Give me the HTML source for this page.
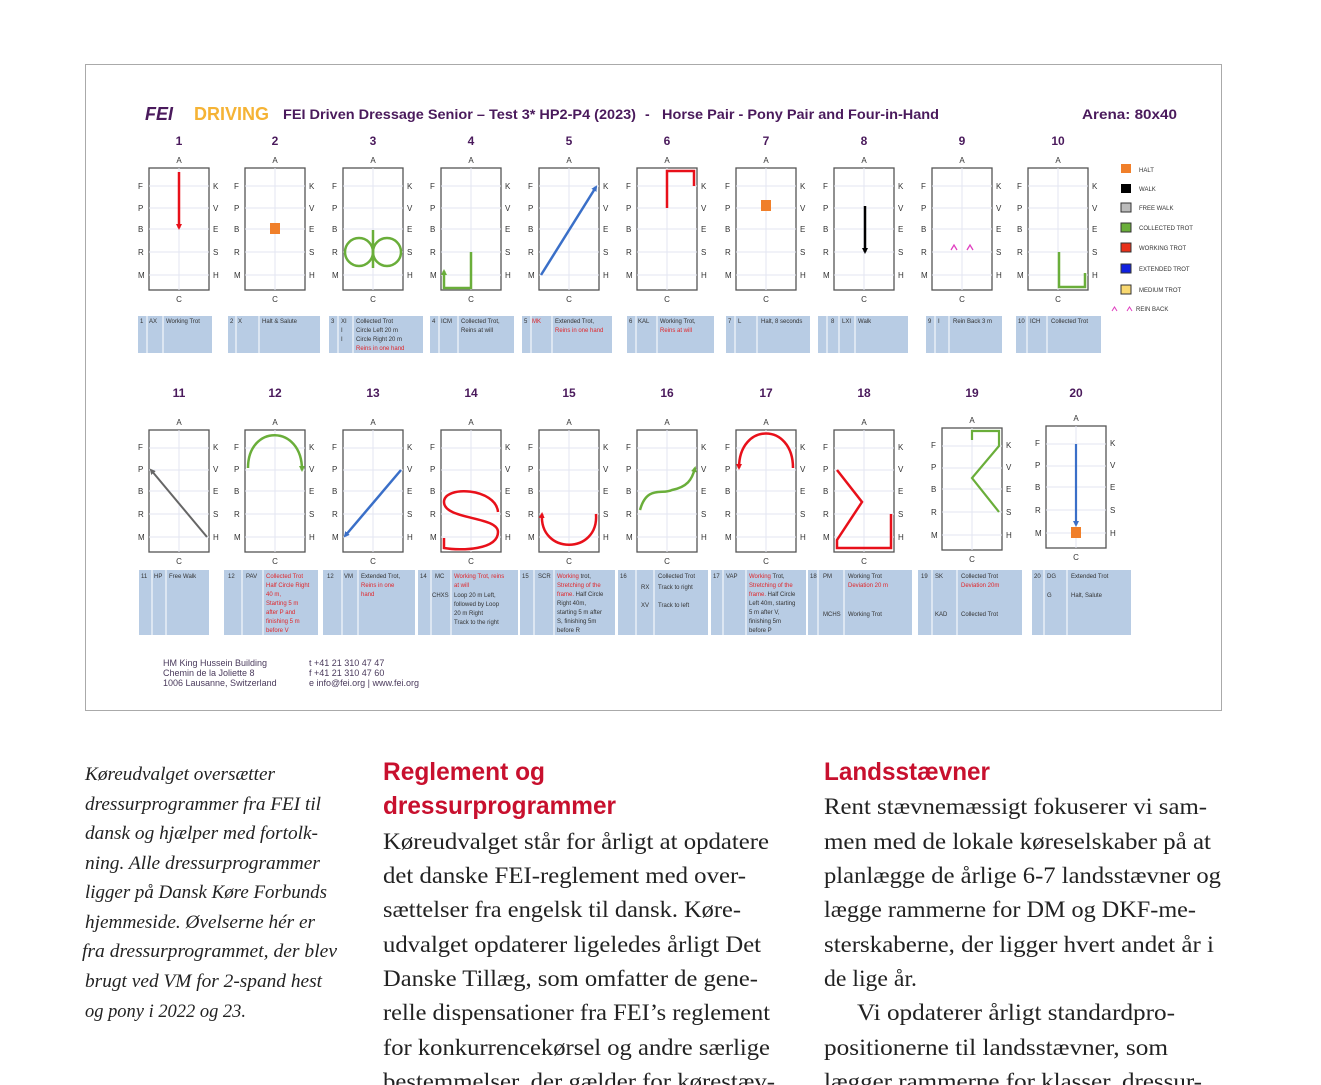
<!DOCTYPE html>
<html><head><meta charset="utf-8"><style>
html,body{margin:0;padding:0;background:#fff;width:1321px;height:1085px;overflow:hidden}
svg{display:block}
.l{font:8px "Liberation Sans",sans-serif;fill:#333}
.n{font:bold 12px "Liberation Sans",sans-serif;fill:#4a1a5c}
.b{font:6px "Liberation Sans",sans-serif;fill:#333}
.r{fill:#e0262a}
.it{font:italic 19px "Liberation Serif",serif;fill:#222}
.bd{font:23px "Liberation Serif",serif;fill:#222}
.hd{font:bold 25px "Liberation Sans",sans-serif;fill:#c8102e}
</style></head><body>
<svg width="1321" height="1085" viewBox="0 0 1321 1085" xmlns="http://www.w3.org/2000/svg">
<defs>
<g id="ar">
<rect x="0" y="0" width="60" height="122" fill="#fff" stroke="#555" stroke-width="1.3"/>
<g stroke="#e3e6f2" stroke-width="1"><line x1="0" y1="18" x2="60" y2="18"/><line x1="0" y1="40" x2="60" y2="40"/><line x1="0" y1="61" x2="60" y2="61"/><line x1="0" y1="84" x2="60" y2="84"/><line x1="0" y1="107" x2="60" y2="107"/><line x1="30" y1="0" x2="30" y2="122"/></g>
</g>
<marker id="ah" markerUnits="userSpaceOnUse" markerWidth="6" markerHeight="6" refX="4" refY="3" orient="auto"><path d="M0,0 L6,3 L0,6z" fill="context-stroke"/></marker>
</defs>
<rect x="85.5" y="64.5" width="1136" height="646" fill="#fff" stroke="#aaa"/>
<text x="145" y="120" style="font:bold italic 18px 'Liberation Sans',sans-serif;fill:#4a1a5c">FEI</text>
<text x="194" y="120" style="font:bold 18px 'Liberation Sans',sans-serif;fill:#f5b335">DRIVING</text>
<text x="283" y="119" style="font:bold 14px 'Liberation Sans',sans-serif;fill:#4a1a5c" textLength="353" lengthAdjust="spacingAndGlyphs">FEI Driven Dressage Senior – Test 3* HP2-P4 (2023)</text>
<text x="645" y="119" style="font:bold 14px 'Liberation Sans',sans-serif;fill:#4a1a5c">-</text>
<text x="662" y="119" style="font:bold 14px 'Liberation Sans',sans-serif;fill:#4a1a5c" textLength="277" lengthAdjust="spacingAndGlyphs">Horse Pair - Pony Pair and Four-in-Hand</text>
<text x="1082" y="119" style="font:bold 14px 'Liberation Sans',sans-serif;fill:#4a1a5c" textLength="95" lengthAdjust="spacingAndGlyphs">Arena: 80x40</text>

<!-- Row 1 -->
<g transform="translate(149,168)"><text class="n" x="30" y="-23" text-anchor="middle">1</text><use href="#ar"/><text class="l" x="30" y="-5" text-anchor="middle">A</text><text class="l" x="30" y="134" text-anchor="middle">C</text><g class="l"><text x="-11" y="21">F</text><text x="-11" y="43">P</text><text x="-11" y="64">B</text><text x="-11" y="87">R</text><text x="-11" y="110">M</text><text x="64" y="21">K</text><text x="64" y="43">V</text><text x="64" y="64">E</text><text x="64" y="87">S</text><text x="64" y="110">H</text></g>
<path d="M30,4 L30,60" stroke="#e8101a" stroke-width="2.5" marker-end="url(#ah)"/></g>
<g transform="translate(245,168)"><text class="n" x="30" y="-23" text-anchor="middle">2</text><use href="#ar"/><text class="l" x="30" y="-5" text-anchor="middle">A</text><text class="l" x="30" y="134" text-anchor="middle">C</text><g class="l"><text x="-11" y="21">F</text><text x="-11" y="43">P</text><text x="-11" y="64">B</text><text x="-11" y="87">R</text><text x="-11" y="110">M</text><text x="64" y="21">K</text><text x="64" y="43">V</text><text x="64" y="64">E</text><text x="64" y="87">S</text><text x="64" y="110">H</text></g>
<rect x="25" y="55" width="10" height="11" fill="#f07f2a"/></g>
<g transform="translate(343,168)"><text class="n" x="30" y="-23" text-anchor="middle">3</text><use href="#ar"/><text class="l" x="30" y="-5" text-anchor="middle">A</text><text class="l" x="30" y="134" text-anchor="middle">C</text><g class="l"><text x="-11" y="21">F</text><text x="-11" y="43">P</text><text x="-11" y="64">B</text><text x="-11" y="87">R</text><text x="-11" y="110">M</text><text x="64" y="21">K</text><text x="64" y="43">V</text><text x="64" y="64">E</text><text x="64" y="87">S</text><text x="64" y="110">H</text></g>
<g stroke="#6aae3a" stroke-width="2.5" fill="none"><line x1="30" y1="62" x2="30" y2="100"/><circle cx="16" cy="84" r="14"/><circle cx="44" cy="84" r="14"/></g></g>
<g transform="translate(441,168)"><text class="n" x="30" y="-23" text-anchor="middle">4</text><use href="#ar"/><text class="l" x="30" y="-5" text-anchor="middle">A</text><text class="l" x="30" y="134" text-anchor="middle">C</text><g class="l"><text x="-11" y="21">F</text><text x="-11" y="43">P</text><text x="-11" y="64">B</text><text x="-11" y="87">R</text><text x="-11" y="110">M</text><text x="64" y="21">K</text><text x="64" y="43">V</text><text x="64" y="64">E</text><text x="64" y="87">S</text><text x="64" y="110">H</text></g>
<path d="M30,84 L30,120 L3,120 L3,103" stroke="#6aae3a" stroke-width="2.5" fill="none" marker-end="url(#ah)"/></g>
<g transform="translate(539,168)"><text class="n" x="30" y="-23" text-anchor="middle">5</text><use href="#ar"/><text class="l" x="30" y="-5" text-anchor="middle">A</text><text class="l" x="30" y="134" text-anchor="middle">C</text><g class="l"><text x="-11" y="21">F</text><text x="-11" y="43">P</text><text x="-11" y="64">B</text><text x="-11" y="87">R</text><text x="-11" y="110">M</text><text x="64" y="21">K</text><text x="64" y="43">V</text><text x="64" y="64">E</text><text x="64" y="87">S</text><text x="64" y="110">H</text></g>
<path d="M2,107 L57,19" stroke="#3a6fc8" stroke-width="2.5" marker-end="url(#ah)"/></g>
<g transform="translate(637,168)"><text class="n" x="30" y="-23" text-anchor="middle">6</text><use href="#ar"/><text class="l" x="30" y="-5" text-anchor="middle">A</text><text class="l" x="30" y="134" text-anchor="middle">C</text><g class="l"><text x="-11" y="21">F</text><text x="-11" y="43">P</text><text x="-11" y="64">B</text><text x="-11" y="87">R</text><text x="-11" y="110">M</text><text x="64" y="21">K</text><text x="64" y="43">V</text><text x="64" y="64">E</text><text x="64" y="87">S</text><text x="64" y="110">H</text></g>
<path d="M30,40 L30,3 L57,3 L57,18" stroke="#e8101a" stroke-width="2.5" fill="none"/></g>
<g transform="translate(736,168)"><text class="n" x="30" y="-23" text-anchor="middle">7</text><use href="#ar"/><text class="l" x="30" y="-5" text-anchor="middle">A</text><text class="l" x="30" y="134" text-anchor="middle">C</text><g class="l"><text x="-11" y="21">F</text><text x="-11" y="43">P</text><text x="-11" y="64">B</text><text x="-11" y="87">R</text><text x="-11" y="110">M</text><text x="64" y="21">K</text><text x="64" y="43">V</text><text x="64" y="64">E</text><text x="64" y="87">S</text><text x="64" y="110">H</text></g>
<rect x="25" y="32" width="10" height="11" fill="#f07f2a"/></g>
<g transform="translate(834,168)"><text class="n" x="30" y="-23" text-anchor="middle">8</text><use href="#ar"/><text class="l" x="30" y="-5" text-anchor="middle">A</text><text class="l" x="30" y="134" text-anchor="middle">C</text><g class="l"><text x="-11" y="21">F</text><text x="-11" y="43">P</text><text x="-11" y="64">B</text><text x="-11" y="87">R</text><text x="-11" y="110">M</text><text x="64" y="21">K</text><text x="64" y="43">V</text><text x="64" y="64">E</text><text x="64" y="87">S</text><text x="64" y="110">H</text></g>
<path d="M31,38 L31,84" stroke="#000" stroke-width="2.5" marker-end="url(#ah)"/></g>
<g transform="translate(932,168)"><text class="n" x="30" y="-23" text-anchor="middle">9</text><use href="#ar"/><text class="l" x="30" y="-5" text-anchor="middle">A</text><text class="l" x="30" y="134" text-anchor="middle">C</text><g class="l"><text x="-11" y="21">F</text><text x="-11" y="43">P</text><text x="-11" y="64">B</text><text x="-11" y="87">R</text><text x="-11" y="110">M</text><text x="64" y="21">K</text><text x="64" y="43">V</text><text x="64" y="64">E</text><text x="64" y="87">S</text><text x="64" y="110">H</text></g>
<path d="M19,82 L22,77 L25,82 M35,82 L38,77 L41,82" stroke="#e040c0" stroke-width="1.3" fill="none"/></g>
<g transform="translate(1028,168)"><text class="n" x="30" y="-23" text-anchor="middle">10</text><use href="#ar"/><text class="l" x="30" y="-5" text-anchor="middle">A</text><text class="l" x="30" y="134" text-anchor="middle">C</text><g class="l"><text x="-11" y="21">F</text><text x="-11" y="43">P</text><text x="-11" y="64">B</text><text x="-11" y="87">R</text><text x="-11" y="110">M</text><text x="64" y="21">K</text><text x="64" y="43">V</text><text x="64" y="64">E</text><text x="64" y="87">S</text><text x="64" y="110">H</text></g>
<path d="M31,84 L31,119 L57,119 L57,105" stroke="#6aae3a" stroke-width="2.5" fill="none"/></g>

<!-- Legend -->
<g style="font:6px 'Liberation Sans',sans-serif;fill:#333">
<rect x="1121" y="164" width="10" height="9" fill="#f07f2a"/><text x="1139" y="172">HALT</text>
<rect x="1121" y="184" width="10" height="9" fill="#000"/><text x="1139" y="191">WALK</text>
<rect x="1121" y="203" width="10" height="9" fill="#bbb" stroke="#333"/><text x="1139" y="210">FREE WALK</text>
<rect x="1121" y="223" width="10" height="9" fill="#6aae3a" stroke="#333"/><text x="1139" y="230">COLLECTED TROT</text>
<rect x="1121" y="243" width="10" height="9" fill="#e8301a" stroke="#333"/><text x="1139" y="250">WORKING TROT</text>
<rect x="1121" y="264" width="10" height="9" fill="#1020e0" stroke="#333"/><text x="1139" y="271">EXTENDED TROT</text>
<rect x="1121" y="285" width="10" height="9" fill="#f8d870" stroke="#333"/><text x="1139" y="292">MEDIUM TROT</text>
<path d="M1112,311 L1114.5,307 L1117,311 M1127,311 L1129.5,307 L1132,311" stroke="#e040c0" stroke-width="1" fill="none"/><text x="1136" y="311">REIN BACK</text>
</g>

<!-- Row 1 boxes -->
<g fill="#b8cce4">
<rect x="138" y="316" width="74" height="37"/><rect x="228" y="316" width="92" height="37"/><rect x="329" y="316" width="94" height="37"/><rect x="430" y="316" width="84" height="37"/><rect x="522" y="316" width="90" height="37"/><rect x="627" y="316" width="87" height="37"/><rect x="726" y="316" width="84" height="37"/><rect x="818" y="316" width="90" height="37"/><rect x="926" y="316" width="76" height="37"/><rect x="1016" y="316" width="85" height="37"/>
</g>
<g stroke="#fff" stroke-width="1">
<path d="M147,316v37M163,316v37M236,316v37M259,316v37M338,316v37M353,316v37M439,316v37M458,316v37M531,316v37M552,316v37M636,316v37M657,316v37M735,316v37M757,316v37M827,316v37M839,316v37M855,316v37M935,316v37M949,316v37M1027,316v37M1047,316v37"/>
</g>
<g class="b">
<text x="140" y="323">1</text><text x="149" y="323">AX</text><text x="166" y="323">Working Trot</text>
<text x="230" y="323">2</text><text x="238" y="323">X</text><text x="262" y="323">Halt &amp; Salute</text>
<text x="331" y="323">3</text><text x="341" y="323">XI</text><text x="341" y="332">I</text><text x="341" y="341">I</text><text x="356" y="323">Collected Trot</text><text x="356" y="332">Circle Left  20 m</text><text x="356" y="341">Circle Right 20 m</text><text x="356" y="350" class="r">Reins in one hand</text>
<text x="432" y="323">4</text><text x="441" y="323">ICM</text><text x="461" y="323">Collected Trot,</text><text x="461" y="332">Reins at will</text>
<text x="524" y="323">5</text><text x="532" y="323" class="r">MK</text><text x="555" y="323">Extended Trot,</text><text x="555" y="332" class="r">Reins in one hand</text>
<text x="629" y="323">6</text><text x="638" y="323">KAL</text><text x="660" y="323">Working Trot,</text><text x="660" y="332" class="r">Reins at will</text>
<text x="728" y="323">7</text><text x="738" y="323">L</text><text x="761" y="323">Halt, 8 seconds</text>
<text x="831" y="323">8</text><text x="842" y="323">LXI</text><text x="858" y="323">Walk</text>
<text x="928" y="323">9</text><text x="938" y="323">I</text><text x="953" y="323">Rein Back 3 m</text>
<text x="1018" y="323">10</text><text x="1030" y="323">ICH</text><text x="1051" y="323">Collected Trot</text>
</g>

<!-- Row 2 -->
<g transform="translate(149,430)"><text class="n" x="30" y="-33" text-anchor="middle">11</text><use href="#ar"/><text class="l" x="30" y="-5" text-anchor="middle">A</text><text class="l" x="30" y="134" text-anchor="middle">C</text><g class="l"><text x="-11" y="20">F</text><text x="-11" y="42">P</text><text x="-11" y="64">B</text><text x="-11" y="87">R</text><text x="-11" y="110">M</text><text x="64" y="20">K</text><text x="64" y="42">V</text><text x="64" y="64">E</text><text x="64" y="87">S</text><text x="64" y="110">H</text></g>
<path d="M58,107 L2,40" stroke="#666" stroke-width="2" marker-end="url(#ah)"/></g>
<g transform="translate(245,430)"><text class="n" x="30" y="-33" text-anchor="middle">12</text><use href="#ar"/><text class="l" x="30" y="-5" text-anchor="middle">A</text><text class="l" x="30" y="134" text-anchor="middle">C</text><g class="l"><text x="-11" y="20">F</text><text x="-11" y="42">P</text><text x="-11" y="64">B</text><text x="-11" y="87">R</text><text x="-11" y="110">M</text><text x="64" y="20">K</text><text x="64" y="42">V</text><text x="64" y="64">E</text><text x="64" y="87">S</text><text x="64" y="110">H</text></g>
<path d="M3,38 C3,-6 57,-6 57,40" stroke="#6aae3a" stroke-width="2.5" fill="none" marker-end="url(#ah)"/></g>
<g transform="translate(343,430)"><text class="n" x="30" y="-33" text-anchor="middle">13</text><use href="#ar"/><text class="l" x="30" y="-5" text-anchor="middle">A</text><text class="l" x="30" y="134" text-anchor="middle">C</text><g class="l"><text x="-11" y="20">F</text><text x="-11" y="42">P</text><text x="-11" y="64">B</text><text x="-11" y="87">R</text><text x="-11" y="110">M</text><text x="64" y="20">K</text><text x="64" y="42">V</text><text x="64" y="64">E</text><text x="64" y="87">S</text><text x="64" y="110">H</text></g>
<path d="M58,40 L2,106" stroke="#3a6fc8" stroke-width="2.5" marker-end="url(#ah)"/></g>
<g transform="translate(441,430)"><text class="n" x="30" y="-33" text-anchor="middle">14</text><use href="#ar"/><text class="l" x="30" y="-5" text-anchor="middle">A</text><text class="l" x="30" y="134" text-anchor="middle">C</text><g class="l"><text x="-11" y="20">F</text><text x="-11" y="42">P</text><text x="-11" y="64">B</text><text x="-11" y="87">R</text><text x="-11" y="110">M</text><text x="64" y="20">K</text><text x="64" y="42">V</text><text x="64" y="64">E</text><text x="64" y="87">S</text><text x="64" y="110">H</text></g>
<path d="M57,82 C55,58 3,55 3,72 C3,90 57,86 57,102 C57,120 20,121 3,118 L3,108" stroke="#e8101a" stroke-width="2.5" fill="none"/></g>
<g transform="translate(539,430)"><text class="n" x="30" y="-33" text-anchor="middle">15</text><use href="#ar"/><text class="l" x="30" y="-5" text-anchor="middle">A</text><text class="l" x="30" y="134" text-anchor="middle">C</text><g class="l"><text x="-11" y="20">F</text><text x="-11" y="42">P</text><text x="-11" y="64">B</text><text x="-11" y="87">R</text><text x="-11" y="110">M</text><text x="64" y="20">K</text><text x="64" y="42">V</text><text x="64" y="64">E</text><text x="64" y="87">S</text><text x="64" y="110">H</text></g>
<path d="M57,84 C60,125 0,125 3,84" stroke="#e8101a" stroke-width="2.5" fill="none" marker-end="url(#ah)"/></g>
<g transform="translate(637,430)"><text class="n" x="30" y="-33" text-anchor="middle">16</text><use href="#ar"/><text class="l" x="30" y="-5" text-anchor="middle">A</text><text class="l" x="30" y="134" text-anchor="middle">C</text><g class="l"><text x="-11" y="20">F</text><text x="-11" y="42">P</text><text x="-11" y="64">B</text><text x="-11" y="87">R</text><text x="-11" y="110">M</text><text x="64" y="20">K</text><text x="64" y="42">V</text><text x="64" y="64">E</text><text x="64" y="87">S</text><text x="64" y="110">H</text></g>
<path d="M3,80 C10,55 25,65 35,60 C50,57 55,50 58,38" stroke="#6aae3a" stroke-width="2.5" fill="none" marker-end="url(#ah)"/></g>
<g transform="translate(736,430)"><text class="n" x="30" y="-33" text-anchor="middle">17</text><use href="#ar"/><text class="l" x="30" y="-5" text-anchor="middle">A</text><text class="l" x="30" y="134" text-anchor="middle">C</text><g class="l"><text x="-11" y="20">F</text><text x="-11" y="42">P</text><text x="-11" y="64">B</text><text x="-11" y="87">R</text><text x="-11" y="110">M</text><text x="64" y="20">K</text><text x="64" y="42">V</text><text x="64" y="64">E</text><text x="64" y="87">S</text><text x="64" y="110">H</text></g>
<path d="M57,38 C57,-8 3,-8 3,38" stroke="#e8101a" stroke-width="2.5" fill="none" marker-end="url(#ah)"/></g>
<g transform="translate(834,430)"><text class="n" x="30" y="-33" text-anchor="middle">18</text><use href="#ar"/><text class="l" x="30" y="-5" text-anchor="middle">A</text><text class="l" x="30" y="134" text-anchor="middle">C</text><g class="l"><text x="-11" y="20">F</text><text x="-11" y="42">P</text><text x="-11" y="64">B</text><text x="-11" y="87">R</text><text x="-11" y="110">M</text><text x="64" y="20">K</text><text x="64" y="42">V</text><text x="64" y="64">E</text><text x="64" y="87">S</text><text x="64" y="110">H</text></g>
<path d="M3,40 L28,72 L3,110 L3,118 L57,118 L57,84" stroke="#e8101a" stroke-width="2.5" fill="none"/></g>
<g transform="translate(942,428)"><text class="n" x="30" y="-31" text-anchor="middle">19</text><use href="#ar"/><text class="l" x="30" y="-5" text-anchor="middle">A</text><text class="l" x="30" y="134" text-anchor="middle">C</text><g class="l"><text x="-11" y="20">F</text><text x="-11" y="42">P</text><text x="-11" y="64">B</text><text x="-11" y="87">R</text><text x="-11" y="110">M</text><text x="64" y="20">K</text><text x="64" y="42">V</text><text x="64" y="64">E</text><text x="64" y="87">S</text><text x="64" y="110">H</text></g>
<path d="M30,12 L30,3 L57,3 L57,18 L30,50 L57,84" stroke="#6aae3a" stroke-width="2.2" fill="none"/></g>
<g transform="translate(1046,426)"><text class="n" x="30" y="-29" text-anchor="middle">20</text><use href="#ar"/><text class="l" x="30" y="-5" text-anchor="middle">A</text><text class="l" x="30" y="134" text-anchor="middle">C</text><g class="l"><text x="-11" y="20">F</text><text x="-11" y="42">P</text><text x="-11" y="64">B</text><text x="-11" y="87">R</text><text x="-11" y="110">M</text><text x="64" y="20">K</text><text x="64" y="42">V</text><text x="64" y="64">E</text><text x="64" y="87">S</text><text x="64" y="110">H</text></g>
<path d="M30,18 L30,99" stroke="#3a6fc8" stroke-width="2.2" marker-end="url(#ah)"/><rect x="25" y="101" width="10" height="11" fill="#f07f2a"/></g>

<!-- Row 2 boxes -->
<g fill="#b8cce4">
<rect x="139" y="570" width="70" height="65"/><rect x="224" y="570" width="94" height="65"/><rect x="323" y="570" width="92" height="65"/><rect x="418" y="570" width="100" height="65"/><rect x="520" y="570" width="95" height="65"/><rect x="618" y="570" width="90" height="65"/><rect x="711" y="570" width="95" height="65"/><rect x="808" y="570" width="104" height="65"/><rect x="918" y="570" width="104" height="65"/><rect x="1032" y="570" width="99" height="65"/>
</g>
<g stroke="#fff" stroke-width="1">
<path d="M152,570v65M166,570v65M242,570v65M263,570v65M342,570v65M358,570v65M431,570v65M451,570v65M534,570v65M554,570v65M636,570v65M654,570v65M723,570v65M746,570v65M818,570v65M844,570v65M932,570v65M957,570v65M1044,570v65M1067,570v65"/>
</g>
<g class="b">
<text x="141" y="578">11</text><text x="154" y="578">HP</text><text x="169" y="578">Free Walk</text>
<text x="228" y="578">12</text><text x="246" y="578">PAV</text><g class="r"><text x="266" y="578">Collected Trot</text><text x="266" y="587">Half Circle Right</text><text x="266" y="596">40 m,</text><text x="266" y="605">Starting 5 m</text><text x="266" y="614">after P and</text><text x="266" y="623">finishing 5 m</text><text x="266" y="632">before V</text></g>
<text x="327" y="578">12</text><text x="344" y="578">VM</text><text x="361" y="578">Extended Trot,</text><text x="361" y="587" class="r">Reins in one</text><text x="361" y="596" class="r">hand</text>
<text x="420" y="578">14</text><text x="435" y="578">MC</text><text x="432" y="597">CHXS</text><text x="454" y="578" class="r">Working Trot, reins</text><text x="454" y="587" class="r">at will</text><text x="454" y="597">Loop 20 m Left,</text><text x="454" y="606">followed by Loop</text><text x="454" y="615">20 m Right</text><text x="454" y="624">Track to the right</text>
<text x="522" y="578">15</text><text x="538" y="578">SCR</text><text x="557" y="578" class="r">Working <tspan fill="#333">trot,</tspan></text><text x="557" y="587" class="r">Stretching of the</text><text x="557" y="596"><tspan class="r">frame.</tspan> Half Circle</text><text x="557" y="605">Right 40m,</text><text x="557" y="614">starting 5 m after</text><text x="557" y="623">S, finishing 5m</text><text x="557" y="632">before R</text>
<text x="620" y="578">16</text><text x="641" y="589">RX</text><text x="641" y="607">XV</text><text x="658" y="578">Collected Trot</text><text x="658" y="589">Track to right</text><text x="658" y="607">Track to left</text>
<text x="713" y="578">17</text><text x="726" y="578">VAP</text><g><text x="749" y="578" class="r">Working <tspan fill="#333">Trot,</tspan></text><text x="749" y="587" class="r">Stretching of the</text><text x="749" y="596"><tspan class="r">frame.</tspan> Half Circle</text><text x="749" y="605">Left 40m, starting</text><text x="749" y="614">5 m after V,</text><text x="749" y="623">finishing 5m</text><text x="749" y="632">before P</text></g>
<text x="810" y="578">18</text><text x="823" y="578">PM</text><text x="823" y="616">MCHS</text><text x="848" y="578">Working Trot</text><text x="848" y="587" class="r">Deviation 20 m</text><text x="848" y="616">Working Trot</text>
<text x="921" y="578">19</text><text x="935" y="578">SK</text><text x="935" y="616">KAD</text><text x="961" y="578">Collected Trot</text><text x="961" y="587" class="r">Deviation 20m</text><text x="961" y="616">Collected Trot</text>
<text x="1034" y="578">20</text><text x="1047" y="578">DG</text><text x="1047" y="597">G</text><text x="1071" y="578">Extended  Trot</text><text x="1071" y="597">Halt, Salute</text>
</g>

<g style="font:9px 'Liberation Sans',sans-serif;fill:#4a3a5c">
<text x="163" y="666">HM King Hussein Building</text><text x="163" y="676">Chemin de la Joliette 8</text><text x="163" y="686">1006 Lausanne, Switzerland</text>
<text x="309" y="666">t +41 21 310 47 47</text><text x="309" y="676">f +41 21 310 47 60</text><text x="309" y="686">e info@fei.org | www.fei.org</text>
</g>

<!-- Caption -->
<g class="it">
<text x="85" y="780" textLength="190" lengthAdjust="spacingAndGlyphs">Køreudvalget oversætter</text>
<text x="85" y="810" textLength="236" lengthAdjust="spacingAndGlyphs">dressurprogrammer fra FEI til</text>
<text x="85" y="839" textLength="233" lengthAdjust="spacingAndGlyphs">dansk og hjælper med fortolk-</text>
<text x="85" y="869" textLength="235" lengthAdjust="spacingAndGlyphs">ning. Alle dressurprogrammer</text>
<text x="85" y="898" textLength="242" lengthAdjust="spacingAndGlyphs">ligger på Dansk Køre Forbunds</text>
<text x="85" y="928" textLength="230" lengthAdjust="spacingAndGlyphs">hjemmeside. Øvelserne hér er</text>
<text x="82" y="957" textLength="255" lengthAdjust="spacingAndGlyphs">fra dressurprogrammet, der blev</text>
<text x="85" y="987" textLength="237" lengthAdjust="spacingAndGlyphs">brugt ved VM for 2-spand hest</text>
<text x="85" y="1017" textLength="161" lengthAdjust="spacingAndGlyphs">og pony i 2022 og 23.</text>
</g>

<text class="hd" x="383" y="780" textLength="162" lengthAdjust="spacingAndGlyphs">Reglement og</text>
<text class="hd" x="383" y="814" textLength="233" lengthAdjust="spacingAndGlyphs">dressurprogrammer</text>
<g class="bd">
<text x="383" y="849" textLength="386" lengthAdjust="spacingAndGlyphs">Køreudvalget står for årligt at opdatere</text>
<text x="383" y="883" textLength="363" lengthAdjust="spacingAndGlyphs">det danske FEI-reglement med over-</text>
<text x="383" y="917" textLength="358" lengthAdjust="spacingAndGlyphs">sættelser fra engelsk til dansk. Køre-</text>
<text x="383" y="952" textLength="378" lengthAdjust="spacingAndGlyphs">udvalget opdaterer ligeledes årligt Det</text>
<text x="383" y="986" textLength="375" lengthAdjust="spacingAndGlyphs">Danske Tillæg, som omfatter de gene-</text>
<text x="383" y="1020" textLength="387" lengthAdjust="spacingAndGlyphs">relle dispensationer fra FEI’s reglement</text>
<text x="383" y="1055" textLength="387" lengthAdjust="spacingAndGlyphs">for konkurrencekørsel og andre særlige</text>
<text x="383" y="1089" textLength="392" lengthAdjust="spacingAndGlyphs">bestemmelser, der gælder for kørestæv-</text>
</g>

<text class="hd" x="824" y="780" textLength="166" lengthAdjust="spacingAndGlyphs">Landsstævner</text>
<g class="bd">
<text x="824" y="814" textLength="383" lengthAdjust="spacingAndGlyphs">Rent stævnemæssigt fokuserer vi sam-</text>
<text x="824" y="849" textLength="387" lengthAdjust="spacingAndGlyphs">men med de lokale køreselskaber på at</text>
<text x="824" y="883" textLength="397" lengthAdjust="spacingAndGlyphs">planlægge de årlige 6-7 landsstævner og</text>
<text x="824" y="917" textLength="372" lengthAdjust="spacingAndGlyphs">lægge rammerne for DM og DKF-me-</text>
<text x="824" y="952" textLength="390" lengthAdjust="spacingAndGlyphs">sterskaberne, der ligger hvert andet år i</text>
<text x="824" y="986" textLength="93" lengthAdjust="spacingAndGlyphs">de lige år.</text>
<text x="857" y="1020" textLength="318" lengthAdjust="spacingAndGlyphs">Vi opdaterer årligt standardpro-</text>
<text x="824" y="1055" textLength="344" lengthAdjust="spacingAndGlyphs">positionerne til landsstævner, som</text>
<text x="824" y="1089" textLength="378" lengthAdjust="spacingAndGlyphs">lægger rammerne for klasser, dressur-</text>
</g>
</svg>
</body></html>
